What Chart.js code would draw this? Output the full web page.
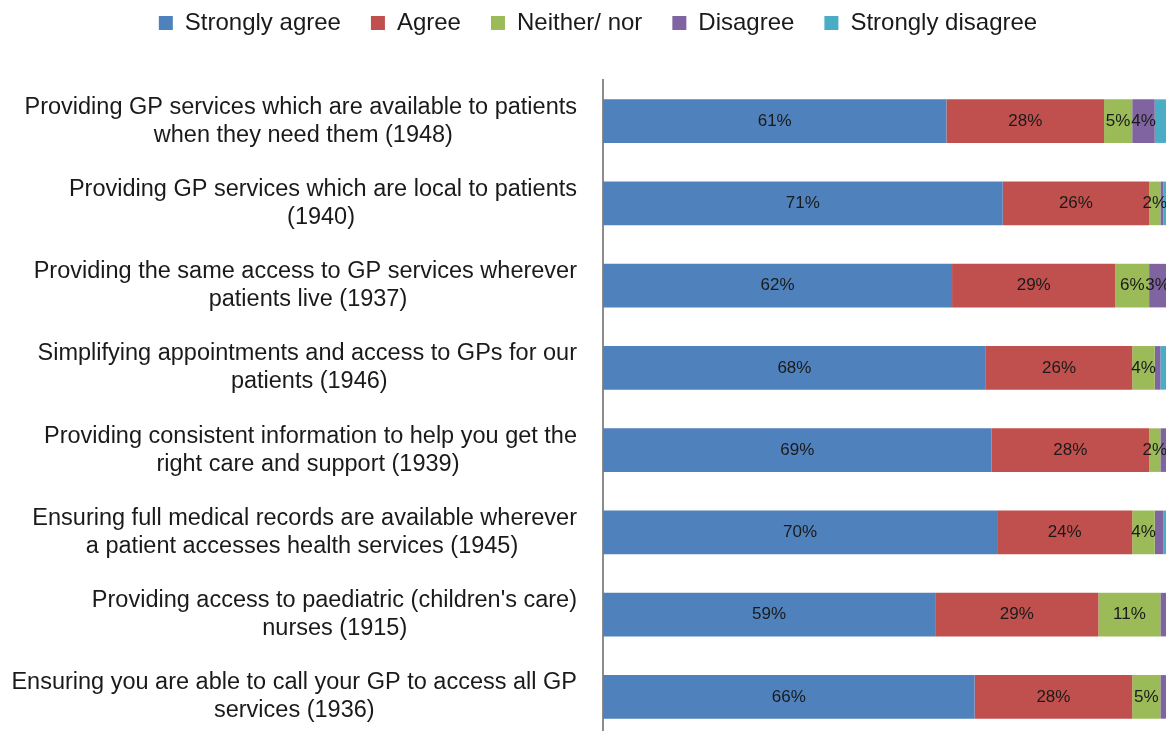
<!DOCTYPE html>
<html lang="en">
<head>
  <meta charset="UTF-8" />
  <title>GP services survey</title>
  <script src="https://cdn.jsdelivr.net/npm/chart.js"></script>
  <style>
    * { margin: 0; padding: 0; box-sizing: border-box; }
    html, body { width: 1166px; height: 731px; overflow: hidden; background: #fff; }
    .wrap { position: absolute; left: 0; top: -19px; width: 1166px; height: 757px; }
  </style>
</head>
<body>
  <div class="wrap"><canvas id="chart"></canvas></div>

  <script>
    const labels = [
      ["Providing GP services which are available to patients", "when they need them (1948)"],
      ["Providing GP services which are local to patients", "(1940)"],
      ["Providing the same access to GP services wherever", "patients live (1937)"],
      ["Simplifying appointments and access to GPs for our", "patients (1946)"],
      ["Providing consistent information to help you get the", "right care and support (1939)"],
      ["Ensuring full medical records are available wherever", "a patient accesses health services (1945)"],
      ["Providing access to paediatric (children's care)", "nurses (1915)"],
      ["Ensuring you are able to call your GP to access all GP", "services (1936)"]
    ];

    const stronglyAgree    = [61, 71, 62, 68, 69, 70, 59, 66];
    const agree            = [28, 26, 29, 26, 28, 24, 29, 28];
    const neither          = [5, 2, 6, 4, 2, 4, 11, 5];
    const disagree         = [4, 0.5, 3, 1, 1, 1.5, 1, 1];
    const stronglyDisagree = [2, 0.5, 1, 1, 0.5, 1, 0.5, 1];

    const fontFamily = "'Liberation Sans', Arial, sans-serif";
    const tickSize = 23.5;

    // right-aligned labels whose lines are centred on each other:
    // pad the shorter line with trailing no-break spaces
    const measure = document.createElement("canvas").getContext("2d");
    measure.font = tickSize + "px " + fontFamily;
    function centreLines(lines) {
      const w = lines.map(l => measure.measureText(l).width);
      const max = Math.max(...w);
      const sp = measure.measureText("\u00a0").width;
      return lines.map((l, i) => l + "\u00a0".repeat(Math.round((max - w[i]) / 2 / sp)));
    }

    // value labels in the middle of each segment
    const valueLabels = {
      id: 'valueLabels',
      afterDatasetsDraw(chart) {
        const ctx = chart.ctx;
        ctx.save();
        ctx.font = "17px " + fontFamily;
        ctx.fillStyle = "#1a1a1a";
        ctx.textAlign = "center";
        ctx.textBaseline = "middle";
        chart.data.datasets.forEach((ds, i) => {
          if (i === 4) return;
          const meta = chart.getDatasetMeta(i);
          meta.data.forEach((bar, j) => {
            const v = ds.data[j];
            if (v < 2) return;
            ctx.fillText(v + "%", (bar.x + bar.base) / 2, bar.y);
          });
        });
        ctx.restore();
      }
    };

    // extra room between legend and bars, legend nudged right a little
    const legendTweak = {
      id: 'legendTweak',
      beforeInit(chart) {
        const legend = chart.legend;
        const fit = legend.fit;
        legend.fit = function () {
          fit.call(legend);
          this.height += 35;
        };
        const draw = legend.draw;
        legend.draw = function () {
          const ctx = chart.ctx;
          ctx.save();
          ctx.translate(15, 0);
          draw.call(legend);
          ctx.restore();
        };
      }
    };

    const mk = (label, data, color) => ({
      label, data, backgroundColor: color, borderWidth: 0,
      barPercentage: 0.53, categoryPercentage: 1
    });

    new Chart(document.getElementById("chart"), {
      type: "bar",
      data: {
        labels: labels,
        datasets: [
          mk("Strongly agree", stronglyAgree, "#4f81bd"),
          mk("Agree", agree, "#c0504d"),
          mk("Neither/ nor", neither, "#9bbb59"),
          mk("Disagree", disagree, "#8064a2"),
          mk("Strongly disagree", stronglyDisagree, "#4bacc6")
        ]
      },
      options: {
        indexAxis: "y",
        responsive: true,
        maintainAspectRatio: false,
        animation: false,
        layout: { padding: 0 },
        plugins: {
          legend: {
            position: "top",
            labels: {
              boxWidth: 14, boxHeight: 14, padding: 30,
              color: "#1a1a1a",
              font: { family: fontFamily, size: 24 }
            }
          },
          tooltip: { enabled: false }
        },
        scales: {
          x: { stacked: true, min: 0, max: 100, display: false },
          y: {
            stacked: true,
            grid: { display: false },
            border: { display: true, color: "#8c8c8c", width: 2 },
            afterFit(scale) {
              scale.width = 603;
              scale.paddingTop = 0;
              scale.paddingBottom = 0;
            },
            ticks: {
              color: "#1a1a1a",
              padding: 18,
              font: { family: fontFamily, size: tickSize, lineHeight: 1.2 },
              callback: function (value) {
                return centreLines(this.getLabelForValue(value));
              }
            }
          }
        }
      },
      plugins: [valueLabels, legendTweak]
    });
  </script>
</body>
</html>
